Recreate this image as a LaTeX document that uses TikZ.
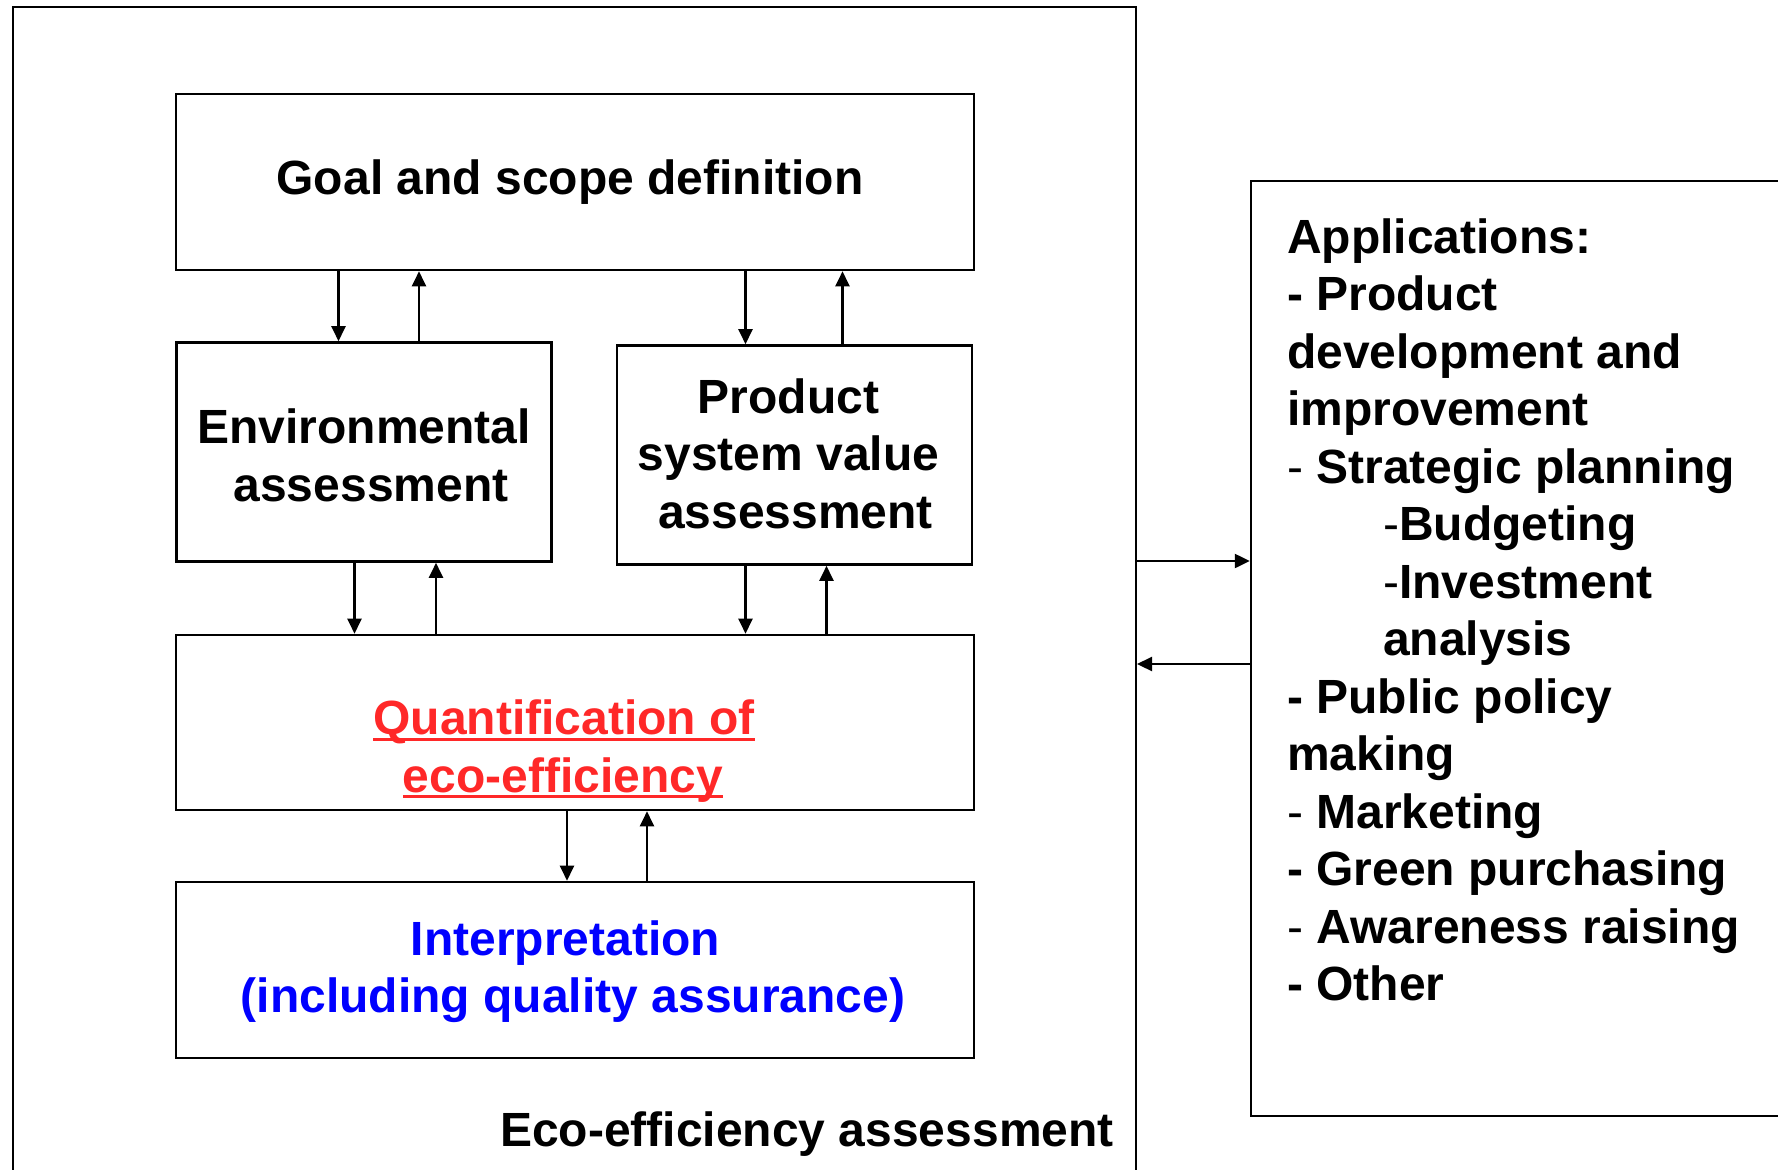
\documentclass[tikz,border=0pt]{standalone}
\usepackage{fontspec}
\setmainfont{Liberation Sans}
\usetikzlibrary{arrows.meta}
\definecolor{qred}{RGB}{255,40,40}
\definecolor{iblue}{RGB}{0,0,255}
\newcommand\redul[1]{\setbox0=\hbox{#1}\leavevmode\rlap{\rule[-6pt]{\wd0}{3pt}}\box0}
\newcommand\thinhy{{\mdseries -}}
\begin{document}
\begin{tikzpicture}[x=1pt,y=-1pt,
  box/.style={draw, line width=2.6pt, inner sep=0pt},
  lbl/.style={font=\fontsize{48}{57.6}\selectfont\bfseries, align=center, inner sep=0pt},
  apptext/.style={font=\fontsize{48}{57.6}\selectfont\bfseries, anchor=base west, inner sep=0pt},
  arr/.style={line width=2.3pt, -{Triangle[length=15pt,width=14pt]}},
]
\useasboundingbox (0,0) rectangle (1778,1170);

% outer frames
\node[draw, line width=2pt, inner sep=0pt, minimum width=1123.5pt, minimum height=1193pt] (outer) at (574.25,603.5) {};
\node[draw, line width=2.4pt, inner sep=0pt, minimum width=549pt, minimum height=935pt] (app) at (1525.5,648.5) {};

% inner boxes
\node[box, minimum width=798pt, minimum height=176pt] (goal) at (575,182) {};
\node[lbl] (goalt) at (570,182.5) {Goal and scope definition};
\node[box, minimum width=375pt, minimum height=219pt] (env) at (364,452) {};
\node[lbl] (envt) at (364,455.5) {Environmental\\\hspace*{14pt}assessment};
\node[box, minimum width=355pt, minimum height=219pt] (prod) at (794.5,455) {};
\node[lbl] (prodt) at (788.5,453.5) {Product\\system value\\\hspace*{14pt}assessment};
\node[box, minimum width=798pt, minimum height=175pt] (quant) at (575,722.5) {};
\node[lbl, text=qred] (quantt) at (566,751) {\redul{Quantification of}\hspace*{4pt}\\\redul{eco-efficiency}\hspace*{6pt}};
\node[box, minimum width=798pt, minimum height=176pt] (interp) at (575,970) {};
\node[lbl, text=iblue] (interpt) at (573,971.5) {Interpretation\hspace*{15pt}\\(including quality assurance)};

\node[lbl, anchor=base east] (ecolbl) at (1114,1146) {Eco-efficiency assessment};

% applications list
\foreach \t [count=\i] in {Applications:, - Product, development and, improvement, \thinhy{} Strategic planning, \hspace*{96pt}\thinhy Budgeting, \hspace*{96pt}\thinhy Investment, \hspace*{96pt}analysis, - Public policy, making, \thinhy{} Marketing, - Green purchasing, \thinhy{} Awareness raising, - Other}
  \node[apptext] (app\i) at (1287,{253+57.5*(\i-1)}) {\t};

% arrow columns
\coordinate (a1) at (338.5,0);
\coordinate (a2) at (419,0);
\coordinate (a3) at (745.5,0);
\coordinate (a4) at (842.5,0);
\coordinate (b1) at (354.5,0);
\coordinate (b2) at (436,0);
\coordinate (b3) at (745.5,0);
\coordinate (b4) at (826.5,0);
\coordinate (c1) at (567,0);
\coordinate (c2) at (647,0);
\coordinate (r1) at (0,561);
\coordinate (r2) at (0,664);

\draw[arr] (goal.south -| a1) -- (env.north -| a1);
\draw[arr] (env.north -| a2) -- (goal.south -| a2);
\draw[arr] (goal.south -| a3) -- (prod.north -| a3);
\draw[arr] (prod.north -| a4) -- (goal.south -| a4);
\draw[arr] (env.south -| b1) -- (quant.north -| b1);
\draw[arr] (quant.north -| b2) -- (env.south -| b2);
\draw[arr] (prod.south -| b3) -- (quant.north -| b3);
\draw[arr] (quant.north -| b4) -- (prod.south -| b4);
\draw[arr] (quant.south -| c1) -- (interp.north -| c1);
\draw[arr] (interp.north -| c2) -- (quant.south -| c2);
\draw[arr] (outer.east |- r1) -- (app.west |- r1);
\draw[arr] (app.west |- r2) -- (outer.east |- r2);
\end{tikzpicture}
\end{document}
